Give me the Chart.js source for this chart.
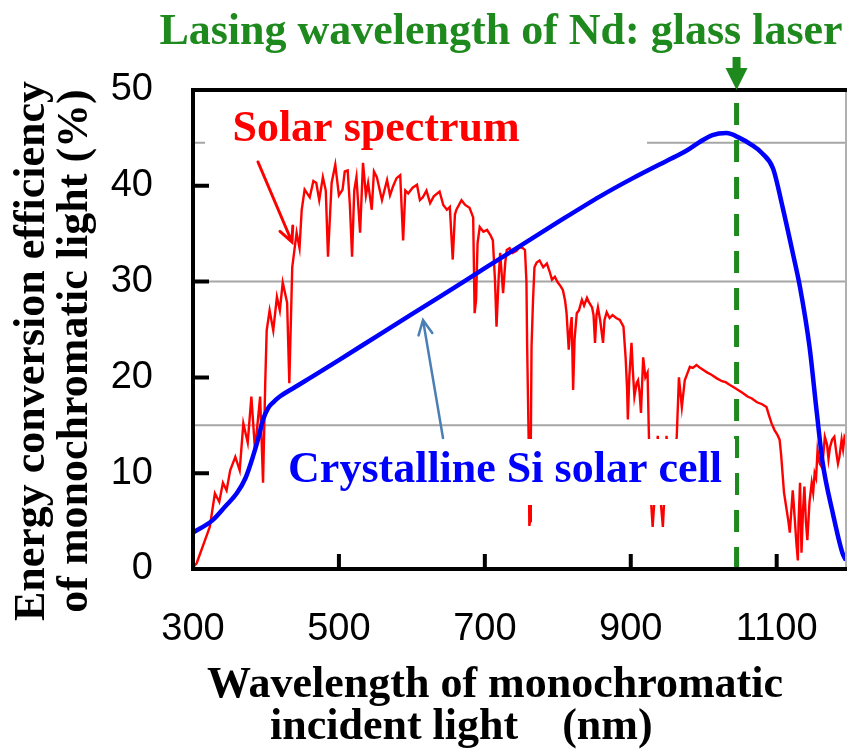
<!DOCTYPE html>
<html>
<head>
<meta charset="utf-8">
<script src="https://cdn.jsdelivr.net/npm/chart.js@4/dist/chart.umd.min.js"></script>
<style>
  body { margin: 0; background: #fff; }
  canvas { display: block; }
</style>
</head>
<body>
<canvas id="siChart" width="847" height="753"></canvas>
<script>
// solar spectrum (arbitrary units on the % axis)
const solarWavelengths = [
  300, 305, 323, 330, 336, 341, 346, 351, 358, 364, 369, 375, 380, 385, 392, 396, 399, 401, 405, 410,
  415, 419, 423, 429, 432, 436, 442, 446, 449, 453, 460, 465, 469, 473, 478, 482, 485, 490, 495, 500,
  505, 508, 512, 515, 518, 521, 524, 529, 533, 537, 540, 545, 548, 552, 559, 566, 570, 574, 579, 584,
  588, 591, 595, 601, 607, 611, 615, 620, 625, 630, 638, 643, 648, 652, 656, 659, 661, 668, 673, 679,
  684, 686, 688, 690, 693, 698, 703, 708, 711, 714, 716, 719, 721, 725, 728, 730, 734, 738, 743, 748,
  752, 755, 757, 758, 760, 761, 762, 763, 764, 766, 768, 771, 775, 780, 785, 789, 792, 796, 800, 804,
  807, 810, 812, 815, 817, 819, 821, 823, 826, 829, 833, 836, 840, 843, 847, 849, 851, 853, 855, 858,
  862, 864, 867, 871, 875, 880, 885, 890, 893, 895, 896, 898, 901, 903, 905, 908, 910, 912, 914, 917,
  920, 923, 925, 927, 930, 934, 937, 940, 944, 947, 949, 953, 957, 960, 963, 966, 970, 974, 978, 981,
  985, 990, 995, 999, 1005, 1010, 1018, 1025, 1030, 1036, 1045, 1053, 1060, 1066, 1073, 1080, 1086, 1090, 1093, 1097,
  1101, 1104, 1106, 1108, 1110, 1113, 1116, 1118, 1120, 1122, 1125, 1127, 1129, 1130, 1132, 1134, 1136, 1138, 1140, 1142,
  1145, 1148, 1150, 1152, 1154, 1156, 1159, 1162, 1164, 1166, 1169, 1171, 1173, 1176, 1179, 1182, 1184, 1186, 1189, 1191,
  1193, 1195
];
const solarValues = [
  0.2, 0.6, 4.4, 7.9, 7.0, 9.0, 8.2, 10.3, 11.7, 10.3, 15.2, 13.2, 18.0, 12.4, 18.0, 9.0, 19.4, 24.9, 27.0, 24.9,
  28.4, 27.0, 29.9, 27.8, 19.4, 31.5, 35.1, 33.5, 37.5, 39.6, 38.8, 40.5, 40.3, 38.5, 40.9, 39.5, 32.6, 40.3, 42.2, 39.0,
  39.6, 41.5, 41.6, 38.0, 32.6, 39.5, 40.9, 35.1, 42.4, 39.0, 40.3, 37.5, 41.5, 40.9, 38.5, 40.6, 39.0, 39.9, 40.8, 41.1,
  34.3, 39.5, 39.2, 39.8, 40.1, 38.5, 38.8, 39.5, 38.2, 38.9, 39.4, 38.0, 37.5, 37.8, 32.3, 37.0, 37.5, 38.5, 38.0, 37.7,
  36.7, 26.7, 28.1, 34.0, 35.7, 35.2, 35.4, 34.8, 34.3, 30.0, 25.3, 30.5, 33.0, 28.8, 32.0, 33.3, 33.5, 33.0, 33.2, 33.6,
  33.5, 33.3, 30.0, 23.2, 13.7, 4.5, 5.0, 13.0, 23.2, 28.0, 31.5, 32.0, 32.2, 31.5, 31.9, 31.0, 30.2, 30.5, 29.9, 29.5,
  29.1, 28.0, 26.7, 22.9, 25.0, 26.3, 18.7, 24.0, 26.7, 27.0, 28.1, 27.5, 28.3, 27.8, 27.3, 26.5, 23.6, 26.5, 27.3, 26.0,
  23.6, 26.0, 26.8, 26.2, 26.5, 26.2, 26.0, 25.3, 22.0, 18.7, 15.6, 20.0, 23.6, 20.5, 18.0, 19.4, 19.7, 18.5, 16.3, 22.1,
  20.0, 20.5, 13.5, 8.0, 4.4, 9.0, 13.9, 8.0, 4.4, 9.0, 13.9, 9.0, 11.0, 12.0, 13.8, 20.0, 16.9, 19.7, 20.5, 21.1,
  21.0, 21.3, 21.0, 20.8, 20.5, 20.3, 19.9, 19.6, 19.5, 19.2, 18.8, 18.4, 18.0, 17.8, 17.4, 17.2, 16.9, 15.9, 15.2, 14.5,
  14.0, 13.5, 12.0, 10.0, 8.0, 6.5, 5.0, 3.8, 6.0, 8.2, 5.0, 2.7, 0.9, 5.0, 9.0, 1.7, 6.0, 8.6, 5.0, 3.0,
  7.0, 9.0, 8.0, 10.0, 9.5, 12.4, 11.0, 10.6, 12.0, 13.8, 13.0, 11.5, 12.7, 13.5, 13.8, 12.0, 11.0, 11.7, 13.5, 12.5,
  13.8, 13.5
];

// crystalline Si cell efficiency (%)
const siWavelengths = [
  300, 327, 345, 360, 372, 382, 390, 396, 403, 410, 419, 440, 464, 500, 556, 600, 638, 700, 748, 800,
  858, 903, 949, 975, 995, 1012, 1031, 1049, 1065, 1080, 1095, 1108, 1122, 1132, 1145, 1155, 1163, 1177, 1190, 1195
];
const siValues = [
  3.8, 5.1, 6.6, 7.9, 9.5, 11.7, 13.8, 15.6, 16.8, 17.4, 18.0, 19.0, 20.1, 21.8, 24.5, 26.6, 28.4, 31.4, 33.7, 36.2,
  38.9, 40.8, 42.6, 43.6, 44.6, 45.3, 45.5, 45.0, 44.3, 43.4, 41.8, 37.8, 33.0, 29.4, 23.2, 16.3, 11.1, 5.8, 1.7, 0.9
];

const laserWavelength = 1045;
const xTickValues = [300, 500, 700, 900, 1100];
const yTickValues = [0, 10, 20, 30, 40, 50];
const gridLevels = [15, 30, 44.5];

const serif = '"Liberation Serif", "Times New Roman", serif';
const sans = '"Liberation Sans", Arial, sans-serif';

function arrow(ctx, x1, y1, x2, y2, color, width, head) {
  const a = Math.atan2(y2 - y1, x2 - x1);
  ctx.save();
  ctx.strokeStyle = color;
  ctx.lineWidth = width;
  ctx.lineCap = 'round';
  ctx.beginPath();
  ctx.moveTo(x1, y1);
  ctx.lineTo(x2, y2);
  ctx.moveTo(x2 - head * Math.cos(a - 0.45), y2 - head * Math.sin(a - 0.45));
  ctx.lineTo(x2, y2);
  ctx.lineTo(x2 - head * Math.cos(a + 0.45), y2 - head * Math.sin(a + 0.45));
  ctx.stroke();
  ctx.restore();
}

const decorations = {
  id: 'decorations',
  beforeDatasetsDraw(chart) {
    const { ctx, chartArea: area, scales: { y } } = chart;
    ctx.save();
    ctx.strokeStyle = '#a6a6a6';
    ctx.lineWidth = 2;
    gridLevels.forEach(v => {
      const py = y.getPixelForValue(v);
      ctx.beginPath();
      ctx.moveTo(area.left, py);
      ctx.lineTo(area.right, py);
      ctx.stroke();
    });
    ctx.restore();
  },
  afterDatasetsDraw(chart) {
    const { ctx, chartArea: area, scales: { x, y } } = chart;
    ctx.save();

    // label backgrounds hide what is behind them
    ctx.fillStyle = '#fff';
    ctx.fillRect(205, 100, 442, 50);
    ctx.fillRect(283, 439, 452, 66);

    // frame
    ctx.strokeStyle = '#b0b0b0';
    ctx.lineWidth = 2;
    ctx.beginPath();
    ctx.moveTo(area.right, area.top);
    ctx.lineTo(area.right, area.bottom);
    ctx.stroke();

    ctx.strokeStyle = '#000';
    ctx.lineWidth = 4;
    ctx.beginPath();
    ctx.moveTo(area.right + 1, area.top);
    ctx.lineTo(area.left, area.top);
    ctx.lineTo(area.left, area.bottom);
    ctx.lineTo(area.right + 1, area.bottom);
    ctx.stroke();

    // inner tick marks
    ctx.beginPath();
    yTickValues.slice(1, -1).forEach(v => {
      const py = y.getPixelForValue(v);
      ctx.moveTo(area.left, py);
      ctx.lineTo(area.left + 16, py);
    });
    xTickValues.slice(1).forEach(v => {
      const px = x.getPixelForValue(v);
      ctx.moveTo(px, area.bottom);
      ctx.lineTo(px, area.bottom - 15);
    });
    ctx.stroke();

    // laser arrow head above the frame
    const lx = x.getPixelForValue(laserWavelength);
    ctx.fillStyle = '#1e8a1e';
    ctx.fillRect(lx - 4, 57, 8, 12);
    ctx.beginPath();
    ctx.moveTo(lx - 11, 68);
    ctx.lineTo(lx + 11, 68);
    ctx.lineTo(lx, 90);
    ctx.closePath();
    ctx.fill();

    // pointer arrows
    arrow(ctx, 258, 162, 292, 242, '#ff0000', 3, 16);
    arrow(ctx, 443, 438, 423, 320, '#4a7fb5', 2.5, 16);

    // texts
    ctx.font = 'bold 44px ' + serif;
    ctx.textAlign = 'center';
    ctx.textBaseline = 'alphabetic';
    ctx.fillStyle = '#1e8a1e';
    ctx.fillText('Lasing wavelength of Nd: glass laser', 501, 44);
    ctx.fillStyle = '#ff0000';
    ctx.fillText('Solar spectrum', 376, 141);
    ctx.fillStyle = '#0000ff';
    ctx.fillText('Crystalline Si solar cell', 505, 482);

    ctx.fillStyle = '#000';
    ctx.textAlign = 'left';
    ctx.fillText('Wavelength of monochromatic', 207, 697);
    ctx.fillText('incident light    (nm)', 270, 739);

    ctx.save();
    ctx.translate(0, 351);
    ctx.rotate(-Math.PI / 2);
    ctx.textAlign = 'center';
    ctx.fillText('Energy conversion efficiency', 0, 44);
    ctx.fillText('of monochromatic light (%)', 0, 87);
    ctx.restore();

    ctx.restore();
  }
};

new Chart(document.getElementById('siChart'), {
  type: 'line',
  data: {
    datasets: [
      {
        label: 'Solar spectrum',
        data: solarWavelengths.map((w, i) => ({ x: w, y: solarValues[i] })),
        borderColor: '#ff0000',
        borderWidth: 2.4,
        pointRadius: 0,
        tension: 0,
        order: 3
      },
      {
        label: 'Crystalline Si solar cell',
        data: siWavelengths.map((w, i) => ({ x: w, y: siValues[i] })),
        borderColor: '#0000ff',
        borderWidth: 4.5,
        pointRadius: 0,
        cubicInterpolationMode: 'monotone',
        order: 2
      },
      {
        label: 'Nd: glass laser',
        data: [{ x: laserWavelength, y: 0 }, { x: laserWavelength, y: 50 }],
        borderColor: '#1e8a1e',
        borderWidth: 5,
        borderDash: [22, 15],
        pointRadius: 0,
        order: 1
      }
    ]
  },
  options: {
    responsive: false,
    animation: false,
    layout: { padding: { top: 90, right: 1, left: 0, bottom: 0 } },
    plugins: {
      legend: { display: false },
      tooltip: { enabled: false }
    },
    scales: {
      x: {
        type: 'linear',
        min: 300,
        max: 1195,
        afterBuildTicks: scale => { scale.ticks = xTickValues.map(v => ({ value: v })); },
        afterFit: scale => {
          scale.height = 184;
          scale.paddingLeft = 0;
          scale.paddingRight = 0;
        },
        grid: { display: false, drawTicks: false },
        border: { display: false },
        ticks: {
          padding: 38,
          maxRotation: 0,
          autoSkip: false,
          color: '#000',
          font: { family: sans, size: 38 },
          callback: v => String(v)
        }
      },
      y: {
        min: 0,
        max: 50,
        afterBuildTicks: scale => { scale.ticks = yTickValues.map(v => ({ value: v })); },
        afterFit: scale => {
          scale.width = 193;
          scale.paddingTop = 0;
          scale.paddingBottom = 0;
        },
        grid: { display: false, drawTicks: false },
        border: { display: false },
        ticks: {
          padding: 40,
          color: '#000',
          font: { family: sans, size: 38 },
          callback: v => String(v)
        }
      }
    }
  },
  plugins: [decorations]
});
</script>
</body>
</html>
